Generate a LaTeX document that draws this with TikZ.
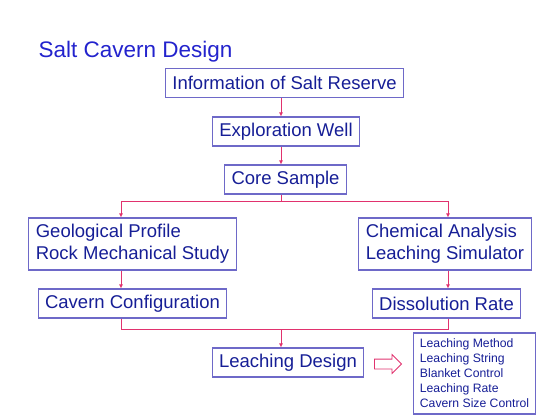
\documentclass[tikz,border=0pt]{standalone}
\usepackage{fontspec}
\setmainfont{Liberation Sans}
\usetikzlibrary{arrows.meta,positioning,shapes.arrows}
\definecolor{ink}{RGB}{22,30,150}
\definecolor{headblue}{RGB}{35,35,205}
\definecolor{frame}{RGB}{110,105,200}
\definecolor{link}{RGB}{225,50,110}

\begin{document}
\begin{tikzpicture}[x=1pt, y=-1pt, font=\fontsize{18.5}{21.7}\selectfont,
box/.style={draw=frame, line width=1.1pt, text=ink, inner xsep=7pt, inner ysep=0pt, minimum height=29pt, align=left},
listbox/.style={box, font=\fontsize{12.2}{15}\selectfont, inner xsep=6pt, minimum height=81pt},
line/.style={draw=link, line width=0.8pt},
arrow/.style={line, -{Latex[length=4pt,width=4pt]}}]
\useasboundingbox (0,0) rectangle (560,420);
\node[anchor=base west, text=headblue, font=\fontsize{22.5}{27}\selectfont] (title) at (35,58) {Salt Cavern Design};
\node[box] (info) at (284.5,83) {Information of Salt Reserve};
\node[box] (well) at (286,131.5) {Exploration Well};
\node[box] (core) at (285.5,179.5) {Core Sample};
\node[box, minimum height=52pt] (geo) at (132.5,244) {Geological Profile\\Rock Mechanical Study};
\node[box, minimum height=52pt] (chem) at (445,244) {Chemical Analysis\\Leaching Simulator};
\node[box] (conf) at (132.5,303.5) {Cavern Configuration};
\node[box] (rate) at (446.5,303.5) {Dissolution Rate};
\node[box] (design) at (288,362.5) {Leaching Design};
\node[draw=link, line width=0.8pt, single arrow, inner xsep=0pt, inner ysep=4.5pt, minimum height=27pt, single arrow head extend=4.5pt] (hollow) at (385.5,364) {};
\node[listbox] (tasks) at (474.5,373.5) {Leaching Method\\Leaching String\\Blanket Control\\Leaching Rate\\Cavern Size Control};
% connector columns
\coordinate (spine) at (281,0);
\coordinate (lcol) at (121,0);
\coordinate (rcol) at (448,0);
\coordinate (split) at (281,201);
\coordinate (merge) at (281,329);
\draw[arrow] (info.south -| spine) -- (well.north -| spine);
\draw[arrow] (well.south -| spine) -- (core.north -| spine);
\draw[line] (core.south -| spine) -- (split);
\draw[arrow] (split) -| (geo.north -| lcol);
\draw[arrow] (split) -| (chem.north -| rcol);
\draw[arrow] (geo.south -| lcol) -- (conf.north -| lcol);
\draw[arrow] (chem.south -| rcol) -- (rate.north -| rcol);
\draw[line] (conf.south -| lcol) |- (merge);
\draw[line] (rate.south -| rcol) |- (merge);
\draw[arrow] (merge) -- (design.north -| spine);
\end{tikzpicture}
\end{document}
